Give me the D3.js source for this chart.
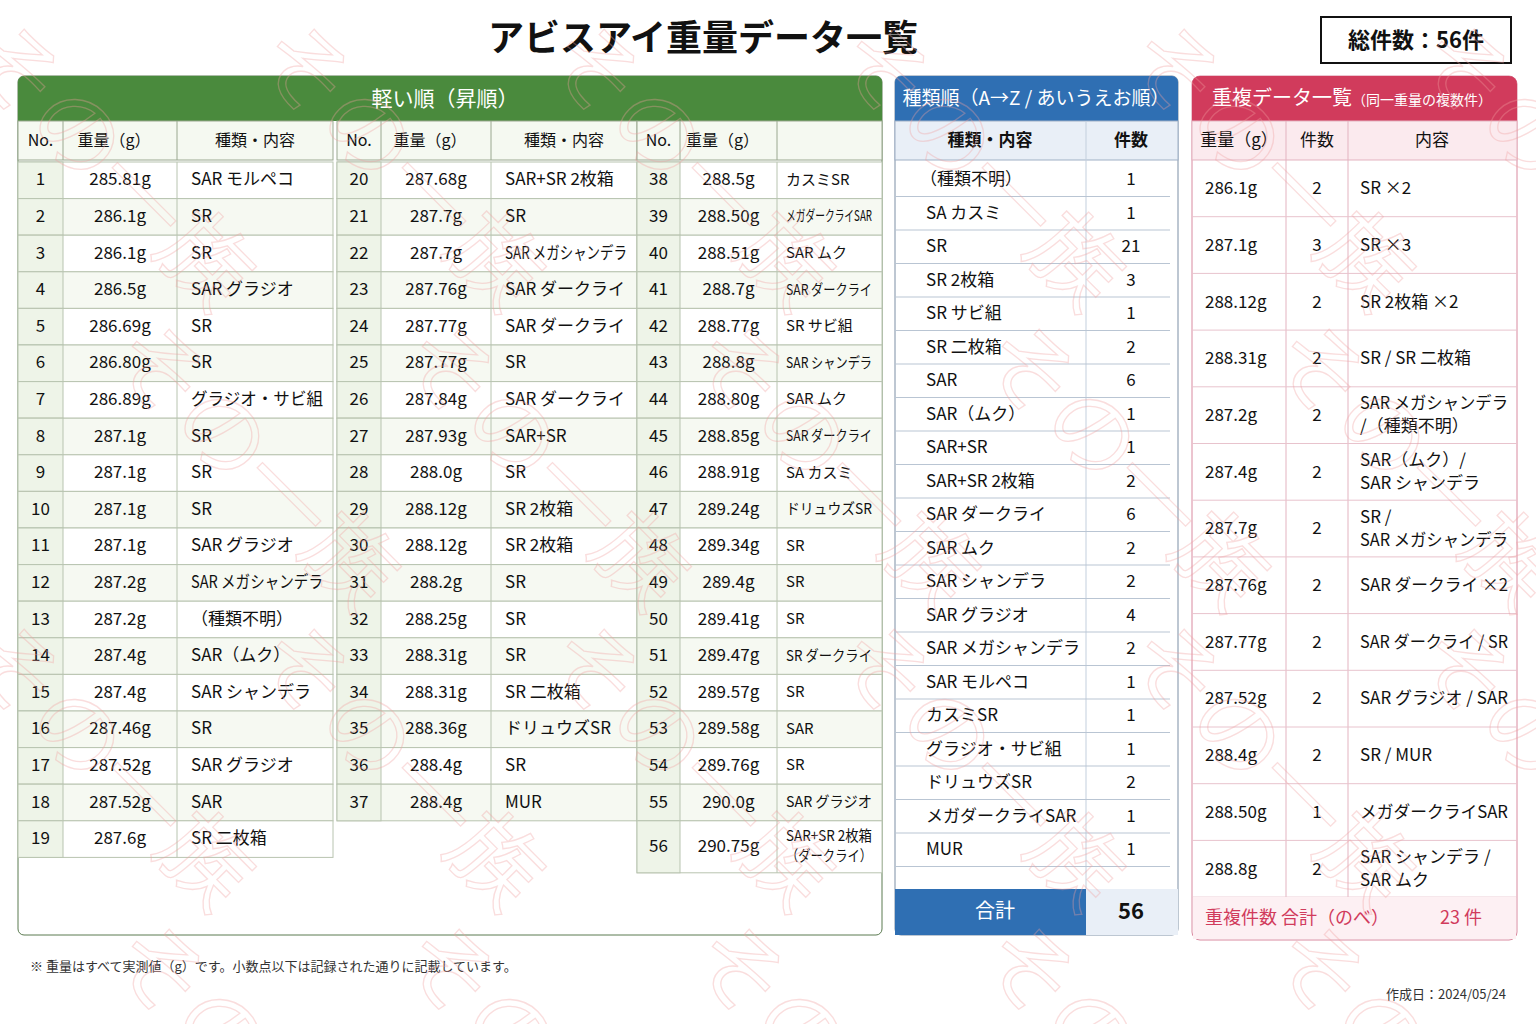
<!DOCTYPE html>
<html><head><meta charset="utf-8">
<script src="https://cdn.jsdelivr.net/npm/d3@7"></script>
<style>body{margin:0;background:#fff}svg{font-family:"Noto Sans CJK JP","Noto Sans",sans-serif}</style>
</head><body><svg id="c" width="1536" height="1024"></svg>
<script>
const weights=["285.81g","286.1g","286.1g","286.5g","286.69g","286.80g","286.89g","287.1g","287.1g","287.1g","287.1g","287.2g","287.2g","287.4g","287.4g","287.46g","287.52g","287.52g","287.6g",
"287.68g","287.7g","287.7g","287.76g","287.77g","287.77g","287.84g","287.93g","288.0g","288.12g","288.12g","288.2g","288.25g","288.31g","288.31g","288.36g","288.4g","288.4g",
"288.5g","288.50g","288.51g","288.7g","288.77g","288.8g","288.80g","288.85g","288.91g","289.24g","289.34g","289.4g","289.41g","289.47g","289.57g","289.58g","289.76g","290.0g","290.75g"];
const types=["SAR モルペコ","SR","SR","SAR グラジオ","SR","SR","グラジオ・サビ組","SR","SR","SR","SAR グラジオ","SAR メガシャンデラ","（種類不明）","SAR（ムク）","SAR シャンデラ","SR","SAR グラジオ","SAR","SR 二枚箱",
"SAR+SR 2枚箱","SR","SAR メガシャンデラ","SAR ダークライ","SAR ダークライ","SR","SAR ダークライ","SAR+SR","SR","SR 2枚箱","SR 2枚箱","SR","SR","SR","SR 二枚箱","ドリュウズSR","SR","MUR",
"カスミSR","メガダークライSAR","SAR ムク","SAR ダークライ","SR サビ組","SAR シャンデラ","SAR ムク","SAR ダークライ","SA カスミ","ドリュウズSR","SR","SR","SR","SR ダークライ","SR","SAR","SR","SAR グラジオ","SAR+SR 2枚箱|（ダークライ）"];
const kindNames=["（種類不明）","SA カスミ","SR","SR 2枚箱","SR サビ組","SR 二枚箱","SAR","SAR（ムク）","SAR+SR","SAR+SR 2枚箱","SAR ダークライ","SAR ムク","SAR シャンデラ","SAR グラジオ","SAR メガシャンデラ","SAR モルペコ","カスミSR","グラジオ・サビ組","ドリュウズSR","メガダークライSAR","MUR"];
const kindCounts=[1,1,21,3,1,2,6,1,1,2,6,2,2,4,2,1,1,1,2,1,1];
const kindTotal=56;
const dupWeights=["286.1g","287.1g","288.12g","288.31g","287.2g","287.4g","287.7g","287.76g","287.77g","287.52g","288.4g","288.50g","288.8g"];
const dupCounts=[2,3,2,2,2,2,2,2,2,2,2,1,2];
const dupContents=["SR ×2","SR ×3","SR 2枚箱 ×2","SR / SR 二枚箱","SAR メガシャンデラ|/（種類不明）","SAR（ムク）/|SAR シャンデラ","SR /|SAR メガシャンデラ","SAR ダークライ ×2","SAR ダークライ / SR","SAR グラジオ / SAR","SR / MUR","メガダークライSAR","SAR シャンデラ /|SAR ムク"];
const dupTotal=23;

const svg=d3.select("#c");
const wm=svg.append("g").attr("pointer-events","none");
function fit(t,maxW){if(!maxW)return;const n=t.node();const tsp=n.querySelectorAll("tspan");
  const els=tsp.length?[...tsp]:[n];els.forEach(e=>{const w=e.getComputedTextLength();if(w>maxW){e.setAttribute("textLength",maxW);e.setAttribute("lengthAdjust","spacingAndGlyphs");}});}
function txt(x,y,s,o={}){const t=svg.append("text").attr("x",x).attr("y",y+(o.size||17)*0.36).attr("font-size",o.size||17).attr("fill",o.fill||"#111")
 .attr("text-anchor",o.anchor||"start").attr("font-weight",o.weight||"normal");
 const lines=s.split("|");if(lines.length===1)t.text(s);else lines.forEach((l,i)=>t.append("tspan").attr("x",x).attr("y",y+(o.size||17)*0.36+(i-(lines.length-1)/2)*(o.lh||22)).text(l));
 fit(t,o.max);return t;}
function rect(x,y,w,h,fill,stroke,rx){return svg.append("rect").attr("x",x).attr("y",y).attr("width",w).attr("height",h).attr("fill",fill).attr("stroke",stroke||"none").attr("rx",rx||0);}

txt(703,38,"アビスアイ重量データ一覧",{size:36,weight:"bold",anchor:"middle"});
rect(1321,17,190,46,"#fff","#111").attr("stroke-width",2);
txt(1416,40,"総件数：56件",{size:22,weight:"bold",anchor:"middle"});

const G="#4a8a3d";
rect(18,76,864,859,"#fff","#5a7a50",6);
rect(18,76,864,45,G,null,6);rect(18,100,864,21,G);
txt(445,98,"軽い順（昇順）",{size:21,fill:"#fff",anchor:"middle"});
const groups=[{x:[18,63,177,333],start:0,n:19},{x:[337,381,491,637],start:19,n:18},{x:[637,680,777,882],start:37,n:19}];
const rowY=d3.scaleLinear().domain([0,1]).range([162,198.6]);
groups.forEach((g,gi)=>{
  rect(g.x[0],121,g.x[3]-g.x[0],39,"#f5f9f1","#9aa890");
  [1,2].forEach(i=>svg.append("line").attr("x1",g.x[i]).attr("x2",g.x[i]).attr("y1",121).attr("y2",160).attr("stroke","#9aa890"));
  for(let r=0;r<g.n;r++){
    const idx=g.start+r;const y0=rowY(r);let h=36.6;if(gi==2&&r==18)h=52;
    rect(g.x[0],y0,g.x[3]-g.x[0],h,r%2?"#f6f9f2":"#fff","#b8c4b0");
    rect(g.x[0],y0,g.x[1]-g.x[0],h,"#eef4e8","#b8c4b0");
    svg.append("line").attr("x1",g.x[2]).attr("x2",g.x[2]).attr("y1",y0).attr("y2",y0+h).attr("stroke","#b8c4b0");
    const cy=y0+h/2-1;
    txt((g.x[0]+g.x[1])/2,cy,String(idx+1),{size:17,anchor:"middle"});
    txt((g.x[1]+g.x[2])/2,cy,weights[idx],{size:17,anchor:"middle"});
    const tx=g.x[2]+(gi==2?9:14);
    txt(tx,cy,types[idx],{size:gi==2?15:17,lh:20,max:g.x[3]-tx-10});
  }
  const hdr=gi<2?["No.","重量（g）","種類・内容"]:["No.","重量（g）",""];
  hdr.forEach((h,i)=>{if(h)txt(i==0?(g.x[0]+g.x[1])/2:(i==1?(g.x[1]+g.x[2])/2-6:(g.x[2]+g.x[3])/2),140,h,{size:16,anchor:"middle"});});
});

const B="#2f6fb3";
rect(895,76,283,859,"#fff","#7d8fa5",6);
rect(895,76,283,45,B,null,6);rect(895,100,283,21,B);
txt(1036,98,"種類順（A→Z / あいうえお順）",{size:19,fill:"#fff",anchor:"middle",max:268});
rect(895,121,283,39,"#e9eff7","#9fb0c5");
svg.append("line").attr("x1",1086).attr("x2",1086).attr("y1",121).attr("y2",889).attr("stroke","#c3cfdd");
txt(990,140,"種類・内容",{size:17,anchor:"middle",weight:"bold"});
txt(1131,140,"件数",{size:17,anchor:"middle",weight:"bold"});
const ky=d3.scaleLinear().domain([0,1]).range([163,196.5]);
kindNames.forEach((k,i)=>{const y0=ky(i);
  svg.append("line").attr("x1",895).attr("x2",1170).attr("y1",y0+33.5).attr("y2",y0+33.5).attr("stroke","#b9c5d3");
  txt(i==0?920:926,y0+16,k,{size:17,max:155});txt(1131,y0+16,String(kindCounts[i]),{size:17,anchor:"middle"});});
rect(895,889,191,46,B);rect(1086,889,92,46,"#e9eff7");
txt(995,911,"合計",{size:20,fill:"#fff",anchor:"middle"});
txt(1131,911,String(kindTotal),{size:22,anchor:"middle",weight:"bold"});

const R="#d13b5c";
rect(1192,76,325,864,"#fff","#d98aa0",8);
rect(1192,76,325,45,R,null,8);rect(1192,100,325,21,R);
svg.append("text").attr("x",1212).attr("y",105).attr("fill","#fff")
 .call(t=>{t.append("tspan").attr("font-size",20).text("重複データ一覧");t.append("tspan").attr("font-size",14).text("（同一重量の複数件）");});
rect(1192,121,325,39,"#fbeaee","#e3b3c0");
[1286,1348].forEach(x=>svg.append("line").attr("x1",x).attr("x2",x).attr("y1",121).attr("y2",897).attr("stroke","#e3b3c0"));
txt(1239,140,"重量（g）",{size:17,anchor:"middle"});txt(1317,140,"件数",{size:17,anchor:"middle"});txt(1432,140,"内容",{size:17,anchor:"middle"});
const dy=d3.scaleLinear().domain([0,1]).range([160,216.7]);
dupWeights.forEach((w,i)=>{const y0=dy(i);
  svg.append("line").attr("x1",1192).attr("x2",1517).attr("y1",y0+56.7).attr("y2",y0+56.7).attr("stroke","#e8c3cd");
  const cy=y0+28;txt(1205,cy,w,{size:17});txt(1317,cy,String(dupCounts[i]),{size:17,anchor:"middle"});txt(1360,cy,dupContents[i],{size:17,lh:23,max:148});});
rect(1193,897,323,42,"#fdf0f3");
txt(1205,918,"重複件数 合計（のべ）",{size:18,fill:R});
txt(1440,918,dupTotal+" 件",{size:18,fill:R});

txt(30,966,"※ 重量はすべて実測値（g）です。小数点以下は記録された通りに記載しています。",{size:13,fill:"#333"});
txt(1506,994,"作成日：2024/05/24",{size:13,fill:"#333",anchor:"end"});

wm.raise();
for(let r=0;r<4;r++)for(let c=0;c<6;c++){
  wm.append("text").attr("transform",`translate(${c*290+(r%2)*145-40},${r*300+60}) rotate(45)`)
   .attr("font-size",90).attr("fill","none").attr("stroke","#f2a0a0").attr("stroke-width",1.3).attr("opacity",0.35).text("その一族");}
</script></body></html>
